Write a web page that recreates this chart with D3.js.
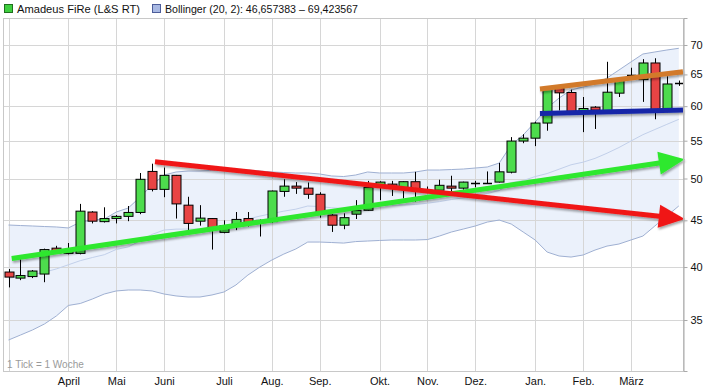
<!DOCTYPE html>
<html><head><meta charset="utf-8">
<script src="https://cdn.jsdelivr.net/npm/d3@7"></script>
<style>body{margin:0;background:#fff;} svg{display:block;font-family:"Liberation Sans",Arial,sans-serif;}</style>
</head><body><svg id="c" width="710" height="392"></svg>
<script>
// ---- data (weekly candles, index 0..56) ----
const open  = [39.5,38.9,39.05,39.3,41.95,41.4,41.4,45.95,44.85,45.2,45.45,45.9,50.9,48.65,50.4,46.75,44.9,45.2,43.65,44.35,45.2,45.0,44.85,48.4,49.05,48.8,48.05,45.6,44.45,45.7,46.15,49.25,49.3,48.7,49.6,48.55,48.55,49.05,48.8,49.45,49.45,49.55,50.8,54.95,55.35,57.5,62.8,62.1,59.25,59.85,59.3,62.0,64.9,64.15,66.9,59.4,63.55];
const high  = [39.8,40.8,39.7,41.9,42.2,42.5,46.9,46.05,46.5,45.6,46.65,50.7,51.9,51.4,50.45,47.75,46.75,45.25,45.0,45.95,45.95,45.1,48.5,49.9,49.55,49.5,48.3,45.7,45.8,47.35,49.7,49.65,49.7,49.65,50.85,49.0,49.85,50.35,49.6,49.7,50.9,52.0,55.5,55.9,57.7,62.95,62.9,62.55,61.4,60.0,67.1,64.3,66.1,67.55,67.7,64.7,64.0];
const low   = [38.0,38.7,38.9,38.5,41.4,41.3,41.3,44.65,44.75,44.65,44.9,45.7,48.4,47.7,45.2,43.9,44.4,41.8,43.55,43.9,44.3,43.2,44.7,47.75,48.1,47.5,45.3,43.7,44.0,45.15,46.1,47.35,47.85,47.55,47.15,48.2,48.5,48.35,48.6,48.9,49.4,49.5,50.65,54.65,54.25,56.4,59.35,59.0,56.2,56.65,59.2,61.4,64.2,60.65,58.05,59.35,63.15];
const close = [39.0,39.15,39.6,41.8,41.45,41.6,46.05,44.9,45.2,45.45,45.9,49.9,48.65,50.4,46.9,44.65,45.25,44.15,44.4,45.1,44.75,44.8,48.45,49.05,48.8,48.05,46.0,44.45,45.3,46.15,48.9,49.55,49.0,49.6,48.55,48.3,49.15,48.8,49.55,49.45,49.45,50.85,54.95,55.35,57.5,62.75,62.05,59.15,59.65,59.4,62.15,64.25,64.9,66.9,59.4,63.45,63.55];

const bbUpper  = [44.47,44.41,44.36,44.30,44.25,44.14,44.80,45.03,45.14,45.95,46.41,47.72,49.19,50.44,50.83,50.95,50.95,51.02,51.08,51.14,51.08,50.95,50.83,50.76,50.70,50.70,50.57,50.32,50.25,50.44,50.83,50.70,50.70,50.70,50.83,51.08,51.08,51.14,51.21,51.34,51.47,51.99,54.40,55.80,57.65,59.72,61.25,62.49,62.97,63.44,64.41,65.72,67.07,68.43,68.78,69.12,69.423567];
const bbMiddle = [38.88,39.06,39.25,39.48,39.81,40.23,40.65,40.97,41.26,41.81,42.08,42.74,43.43,43.91,44.01,44.02,44.02,44.15,44.32,44.69,45.14,45.48,45.77,46.05,46.28,46.65,46.59,46.44,46.37,46.55,46.77,46.74,46.76,46.76,46.83,46.98,47.17,47.42,47.62,47.85,48.14,48.51,49.49,49.75,50.24,50.63,51.19,51.76,52.10,52.60,53.29,54.06,54.95,55.84,56.57,57.31,58.04];
const bbLower  = [33.28,33.70,34.13,34.65,35.36,36.31,36.49,36.90,37.37,37.66,37.75,37.75,37.66,37.37,37.19,37.09,37.09,37.28,37.56,38.23,39.20,40.00,40.71,41.33,41.86,42.60,42.60,42.55,42.49,42.65,42.71,42.77,42.82,42.82,42.82,42.87,43.25,43.69,44.02,44.36,44.80,45.03,44.58,43.69,42.82,41.54,41.13,41.02,41.23,41.75,42.17,42.39,42.82,43.25,44.36,45.49,46.657383];

const monthLabels = ["April","Mai","Juni","Juli","Aug.","Sep.","Okt.","Nov.","Dez.","Jan.","Feb.","März"];
const monthIndex  = [5,9,13,18,22,26,31,35,39,44,48,52];
const yTicks = [35,40,45,50,55,60,65,70];

const legendSeries = "Amadeus FiRe (L&S RT)";
const legendBand = "Bollinger (20, 2): 46,657383 \u2013 69,423567";

// hand-drawn trend lines: start/end as (week index, price)
const trendX0 = [0.27, 12.24, 44.4, 44.4];
const trendY0 = [40.87, 52.16, 62.64, 58.89];
const trendX1 = [56.5, 56.5, 56.35, 56.35];
const trendY1 = [52.49, 45.14, 65.45, 59.42];
const trendArrow = [true, true, false, false];

// ---- styles ----
const trendColors = ["#2ee82e","#f01818","#d27a2a","#1426a8"];
const upCol = "#4ddc4d", downCol = "#e84444";

const W = 710, H = 392;
const pL = 3, pR = 683, pT = 18, pB = 371;
const svg = d3.select("#c");

const x = d3.scaleLinear().domain([0, 56]).range([8.5, 678.8]);
const y = d3.scaleLog().domain([30.78, 74.93]).range([pB, pT]);

const defs = svg.append("defs");
defs.append("clipPath").attr("id","clip").append("rect")
  .attr("x",pL).attr("y",pT).attr("width",pR-pL).attr("height",pB-pT);
const f = defs.append("filter").attr("id","sh").attr("x","-10%").attr("y","-50%").attr("width","120%").attr("height","200%");
f.append("feDropShadow").attr("dx",1).attr("dy",2).attr("stdDeviation",1.2).attr("flood-color","#000").attr("flood-opacity",0.35);

// legend
svg.append("rect").attr("x",4.5).attr("y",4.5).attr("width",8).attr("height",8).attr("fill","#3fcf3f").attr("stroke","#1f6f1f");
svg.append("text").attr("x",17).attr("y",13).attr("font-size",11.5).attr("fill","#111")
  .attr("textLength",123).attr("lengthAdjust","spacingAndGlyphs").text(legendSeries);
svg.append("rect").attr("x",152.5).attr("y",4.5).attr("width",8).attr("height",8).attr("fill","#a9b9e3").attr("stroke","#4d5d9a");
svg.append("text").attr("x",165).attr("y",13).attr("font-size",11.5).attr("fill","#111")
  .attr("textLength",193).attr("lengthAdjust","spacingAndGlyphs").text(legendBand);

const plot = svg.append("g").attr("clip-path","url(#clip)");

// band
const idx = d3.range(open.length);
plot.append("path").datum(idx)
  .attr("d", d3.area().x(i=>x(i)).y0(i=>y(bbLower[i])).y1(i=>y(bbUpper[i])))
  .attr("fill","#ebf1fb");

// grid
const gridCol = "#d6d6d6";
plot.append("g").selectAll("line").data(yTicks).join("line")
  .attr("x1",pL).attr("x2",pR).attr("y1",d=>Math.round(y(d))+0.5).attr("y2",d=>Math.round(y(d))+0.5)
  .attr("stroke",gridCol);
plot.append("g").selectAll("line").data([0].concat(monthIndex)).join("line")
  .attr("x1",d=>Math.round(x(d))+0.5).attr("x2",d=>Math.round(x(d))+0.5).attr("y1",pT).attr("y2",pB)
  .attr("stroke",gridCol);

// band lines
[bbUpper, bbLower].forEach(arr=>{
  plot.append("path").datum(idx).attr("d", d3.line().x(i=>x(i)).y(i=>y(arr[i])))
    .attr("fill","none").attr("stroke","#9fb0d2").attr("stroke-width",1);
});
plot.append("path").datum(idx).attr("d", d3.line().x(i=>x(i)).y(i=>y(bbMiddle[i])))
  .attr("fill","none").attr("stroke","#c2d0ea").attr("stroke-width",1);

// candles
const bw = 9;
const cg = plot.append("g");
idx.forEach(i=>{
  const cx = Math.round(x(i)) + 0.5;
  cg.append("line").attr("x1",cx).attr("x2",cx).attr("y1",y(high[i])).attr("y2",y(low[i]))
    .attr("stroke","#000").attr("stroke-width",1);
  const o = y(open[i]), c = y(close[i]);
  if (Math.abs(o - c) < 1) {
    cg.append("line").attr("x1",cx-bw/2).attr("x2",cx+bw/2).attr("y1",Math.round(o)+0.5).attr("y2",Math.round(o)+0.5)
      .attr("stroke","#000").attr("stroke-width",1.5);
  } else {
    cg.append("rect").attr("x",cx-bw/2).attr("width",bw)
      .attr("y",Math.min(o,c)).attr("height",Math.abs(o-c))
      .attr("fill", close[i] >= open[i] ? upCol : downCol)
      .attr("stroke","#000").attr("stroke-width",1);
  }
});

// trend lines
const tg = svg.append("g").attr("filter","url(#sh)");
trendX0.forEach((_,k)=>{
  const x0 = x(trendX0[k]), y0 = y(trendY0[k]), x1 = x(trendX1[k]), y1 = y(trendY1[k]);
  const dx = x1-x0, dy = y1-y0, len = Math.hypot(dx,dy), ux = dx/len, uy = dy/len;
  const L = 26, Wd = 11.5;
  const ex = trendArrow[k] ? x1 - ux*L*0.8 : x1, ey = trendArrow[k] ? y1 - uy*L*0.8 : y1;
  tg.append("line").attr("x1",x0).attr("y1",y0).attr("x2",ex).attr("y2",ey)
    .attr("stroke",trendColors[k]).attr("stroke-width",5);
  if (trendArrow[k]) {
    const bx = x1 - ux*L, by = y1 - uy*L;
    const pts = [[x1,y1],[bx - uy*Wd, by + ux*Wd],[bx + uy*Wd, by - ux*Wd]];
    tg.append("path").attr("d","M"+pts.map(p=>p.join(",")).join("L")+"Z").attr("fill",trendColors[k]);
  }
});

// frame
svg.append("rect").attr("x",pL+0.5).attr("y",pT+0.5).attr("width",pR-pL).attr("height",pB-pT)
  .attr("fill","none").attr("stroke","#c8c8c8");

// right axis
const ya = svg.append("g").attr("transform",`translate(${pR+0.5},0)`)
  .call(d3.axisRight(y).tickValues(yTicks).tickSize(4).tickPadding(3).tickFormat(d3.format("d")));
ya.select(".domain").attr("stroke","#aaa");
ya.selectAll(".tick line").attr("stroke","#aaa");
ya.selectAll("text").attr("font-size",11).attr("font-family","Liberation Sans, Arial, sans-serif").attr("fill","#111");

// bottom axis
const xa = svg.append("g").attr("transform",`translate(0,${pB})`)
  .call(d3.axisBottom(x).tickValues(monthIndex).tickSize(0).tickPadding(6).tickFormat((d,i)=>monthLabels[i]));
xa.select(".domain").remove();
xa.selectAll("text").attr("font-size",11).attr("font-family","Liberation Sans, Arial, sans-serif").attr("fill","#111");

svg.append("text").attr("x",7).attr("y",368).attr("font-size",10).attr("fill","#9a9a9a").text("1 Tick = 1 Woche");
</script></body></html>
